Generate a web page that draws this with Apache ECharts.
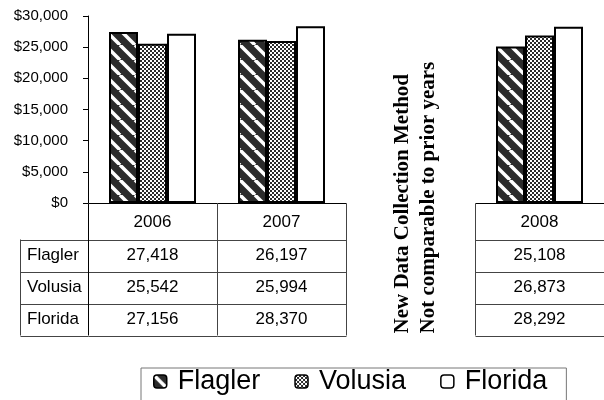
<!DOCTYPE html>
<html>
<head>
<meta charset="utf-8">
<script src="https://cdn.jsdelivr.net/npm/echarts@6/dist/echarts.min.js"></script>
<style>
  html, body { margin: 0; padding: 0; background: #fff; }
  #chart { width: 604px; height: 400px; }
</style>
</head>
<body>
<div id="chart"></div>
<script>
// data
var years = ['2006', '2007', '', '2008'];
var flagler = [27418, 26197, null, 25108];
var volusia = [25542, 25994, null, 26873];
var florida = [27156, 28370, null, 28292];
var rowNames = ['Flagler', 'Volusia', 'Florida'];
var note = ['New Data Collection Method', 'Not comparable to prior years'];

var rows = [flagler, volusia, florida];

// hatch fills
function stripes() {
  var c = document.createElement('canvas');
  c.width = 15; c.height = 15;
  var g = c.getContext('2d');
  g.fillStyle = '#2b2b2b';
  g.fillRect(0, 0, 15, 15);
  g.strokeStyle = '#fff';
  g.lineWidth = 3.5;
  [-15, 0, 15].forEach(function (o) {
    g.beginPath();
    g.moveTo(o, 0);
    g.lineTo(o + 15, 15);
    g.stroke();
  });
  return c;
}
function checks() {
  var c = document.createElement('canvas');
  c.width = 4; c.height = 4;
  var g = c.getContext('2d');
  g.fillStyle = '#fff';
  g.fillRect(0, 0, 4, 4);
  g.fillStyle = '#2b2b2b';
  g.fillRect(0, 0, 2, 2);
  g.fillRect(2, 2, 2, 2);
  return c;
}

var fills = [
  { image: stripes(), repeat: 'repeat' },
  { image: checks(), repeat: 'repeat' },
  '#fff'
];

function fmt(v) {
  return v.toLocaleString('en-US');
}

var myChart = echarts.init(document.getElementById('chart'));

myChart.setOption({
  animation: false,
  grid: { left: 88, top: 16, width: 520, height: 187 },
  legend: {
    data: rowNames,
    left: 141,
    top: 368,
    padding: [0, 19, 40, 12],
    itemWidth: 13,
    itemHeight: 13,
    itemGap: 34,
    borderColor: '#777',
    borderWidth: 1,
    itemStyle: { borderColor: '#000', borderWidth: 1.5 },
    textStyle: {
      fontSize: 27,
      fontFamily: 'Liberation Sans',
      color: '#000',
      padding: [0, 0, 0, 6]
    }
  },
  xAxis: {
    type: 'category',
    data: years,
    axisLine: { show: false },
    axisTick: { show: false },
    axisLabel: {
      color: '#000',
      fontSize: 17,
      fontFamily: 'Liberation Sans',
      margin: 11
    }
  },
  yAxis: {
    type: 'value',
    min: 0,
    max: 30000,
    interval: 5000,
    splitLine: { show: false },
    axisLine: { show: true, lineStyle: { color: '#000' } },
    axisTick: { show: true, length: 5, lineStyle: { color: '#000' } },
    axisLabel: {
      color: '#000',
      fontSize: 15,
      fontFamily: 'Liberation Sans',
      margin: 20,
      formatter: function (v) { return '$' + fmt(v); }
    }
  },
  series: rowNames.map(function (name, i) {
    return {
      name: name,
      type: 'bar',
      data: rows[i],
      barWidth: 29,
      barGap: '0%',
      itemStyle: { color: fills[i], borderColor: '#000', borderWidth: 2 }
    };
  })
});

// data table under the axis, placed from the axis scale
var base = Math.round(myChart.convertToPixel({ yAxisIndex: 0 }, 0)) + 0.5;
var c0 = myChart.convertToPixel({ xAxisIndex: 0 }, 0);
var band = myChart.convertToPixel({ xAxisIndex: 0 }, 1) - c0;
var headH = 36, rowH = 32, labelLeft = 20;
var g = [];

function line(x1, y1, x2, y2, color) {
  g.push({
    type: 'line',
    shape: { x1: x1, y1: y1, x2: x2, y2: y2 },
    style: { stroke: color || '#444', lineWidth: 1 },
    silent: true
  });
}
function text(str, x, y, align, font) {
  g.push({
    type: 'text',
    x: x, y: y,
    style: {
      text: str,
      fill: '#000',
      font: font || '17px "Liberation Sans"',
      align: align || 'center',
      verticalAlign: 'middle'
    },
    silent: true
  });
}

var bottom = base + headH + rowH * rows.length;
var firstCol = Math.round(c0 - band / 2) + 0.5;

// row label column
for (var r = 0; r <= rows.length; r++) {
  var yy = Math.round(base + headH + rowH * r) + 0.5;
  line(labelLeft + 0.5, yy, firstCol, yy);
}
line(labelLeft + 0.5, base + headH, labelLeft + 0.5, bottom);
rowNames.forEach(function (n, r) {
  text(n, labelLeft + 7, base + headH + rowH * r + rowH / 2, 'left');
});

years.forEach(function (yr, i) {
  var cx = c0 + band * i;
  var xl = Math.round(cx - band / 2) + 0.5;
  var xr = Math.round(cx + band / 2) + 0.5;
  if (yr === '') {
    // empty slot holds the note
    g.push({
      type: 'text',
      x: cx + 5,
      y: bottom - 2,
      rotation: Math.PI / 2,
      style: {
        text: note.join('\n'),
        fill: '#000',
        font: 'bold 21px "Liberation Serif"',
        lineHeight: 26,
        align: 'left',
        verticalAlign: 'middle'
      },
      silent: true
    });
    return;
  }
  line(xl, base, xr, base, '#000');
  for (var r = 0; r <= rows.length; r++) {
    var yy = Math.round(base + headH + rowH * r) + 0.5;
    line(xl, yy, xr, yy);
  }
  line(xl, base, xl, bottom, i === 0 ? '#000' : '#444');
  if (i + 1 < years.length && years[i + 1] !== '') return;
  line(xr, base, xr, bottom);
});

years.forEach(function (yr, i) {
  if (yr === '') return;
  var cx = c0 + band * i;
  rows.forEach(function (vals, r) {
    text(fmt(vals[i]), cx, base + headH + rowH * r + rowH / 2);
  });
});

myChart.setOption({ graphic: g });
</script>
</body>
</html>
